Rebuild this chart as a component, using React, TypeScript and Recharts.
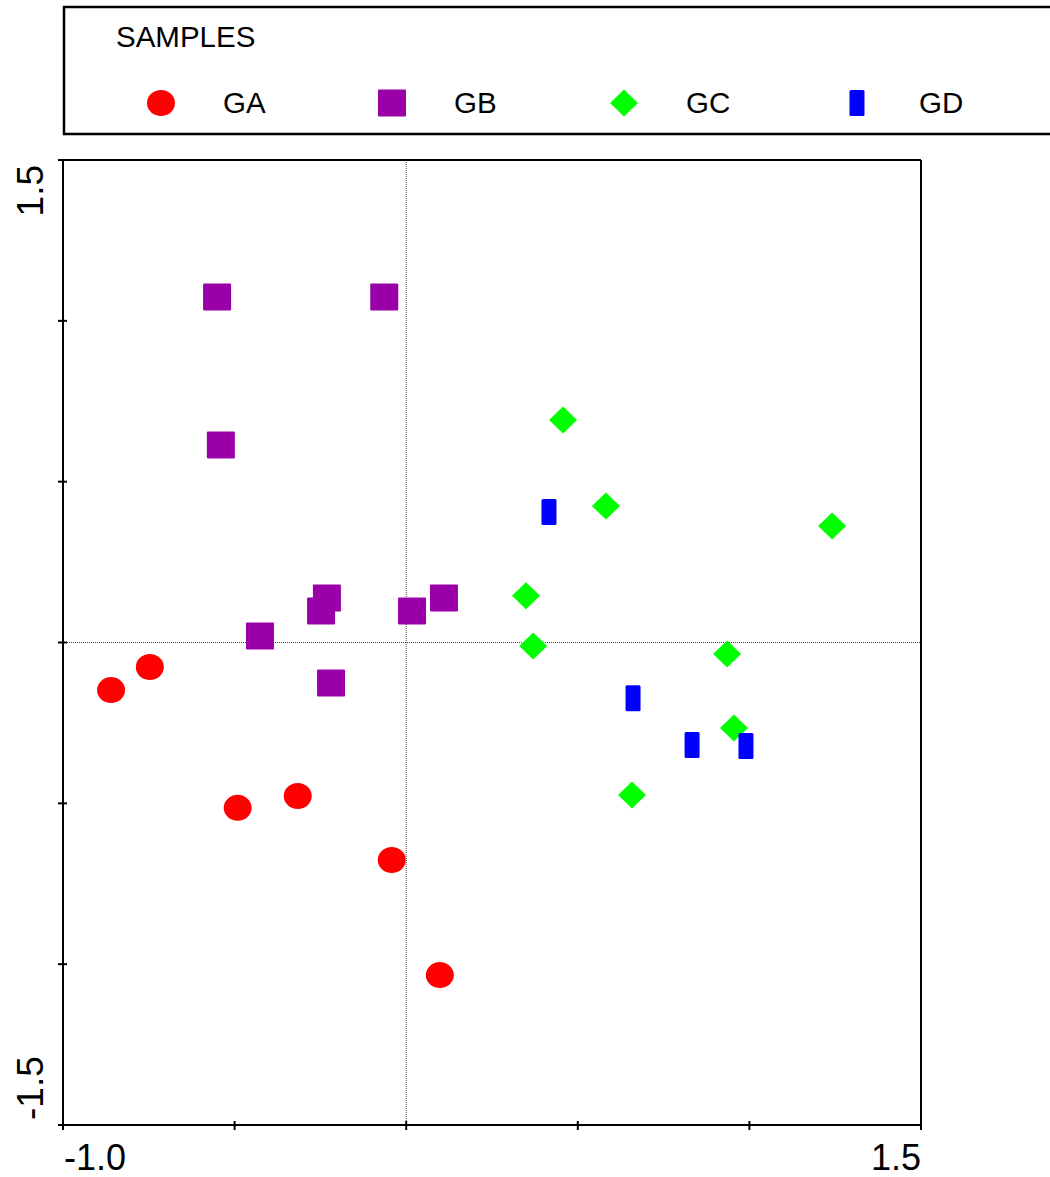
import React from "react";
import {
  ScatterChart,
  Scatter,
  XAxis,
  YAxis,
  ReferenceLine,
} from "recharts";

// sample scores
const gaX = [-0.86, -0.747, -0.491, -0.316, -0.042, 0.098];
const gaY = [-0.148, -0.076, -0.514, -0.477, -0.676, -1.034];

const gbX = [-0.551, -0.064, -0.54, -0.426, -0.231, -0.248, 0.017, 0.11, -0.219];
const gbY = [1.074, 1.074, 0.614, 0.02, 0.138, 0.098, 0.098, 0.138, -0.126];

const gcX = [0.457, 0.582, 1.241, 0.349, 0.37, 0.935, 0.955, 0.658];
const gcY = [0.692, 0.424, 0.362, 0.145, -0.011, -0.036, -0.266, -0.474];

const gdX = [0.416, 0.661, 0.833, 0.99];
const gdY = [0.406, -0.173, -0.319, -0.322];

const groups = ["GA", "GB", "GC", "GD"];
const xTicks = [-1.0, -0.5, 0, 0.5, 1.0, 1.5];
const yTicks = [-1.5, -1.0, -0.5, 0, 0.5, 1.0, 1.5];
const xTickLabels = ["-1.0", "", "", "", "", "1.5"];
const yTickLabels = ["-1.5", "", "", "", "", "", "1.5"];

const FONT = "'Liberation Sans', Arial, sans-serif";

const toPoints = (xs: number[], ys: number[]) =>
  xs.map((x, i) => ({ x, y: ys[i] }));

const colors: Record<string, string> = {
  GA: "#FF0000",
  GB: "#9900A8",
  GC: "#00FF00",
  GD: "#0000FF",
};

const Marker = ({ group, cx, cy }: { group: string; cx: number; cy: number }) => {
  const fill = colors[group];
  if (group === "GA") return <ellipse cx={cx} cy={cy} rx={14} ry={13} fill={fill} />;
  if (group === "GB")
    return <rect x={cx - 14} y={cy - 13.5} width={28} height={27} rx={1} fill={fill} />;
  if (group === "GC")
    return (
      <path
        d={`M${cx},${cy - 13.5} L${cx + 14},${cy} L${cx},${cy + 13.5} L${cx - 14},${cy} Z`}
        fill={fill}
      />
    );
  return <rect x={cx - 7.5} y={cy - 13} width={15} height={26} rx={1.5} fill={fill} />;
};

const XTick = ({ x, y, index }: any) => {
  const label = xTickLabels[index];
  const anchor = index === 0 ? "start" : "end";
  return (
    <g>
      <line x1={x} x2={x} y1={y - 4} y2={y + 5} stroke="#000" strokeWidth={2} />
      {label && (
        <text x={x + (index === 0 ? 1 : 0)} y={1170} textAnchor={anchor} fontSize={36} fontFamily={FONT} fill="#000">
          {label}
        </text>
      )}
    </g>
  );
};

const YTick = ({ x, y, index }: any) => {
  const label = yTickLabels[index];
  const top = index === yTicks.length - 1;
  const ty = top ? y + 5 : y - 5;
  return (
    <g>
      <line x1={x - 5} x2={x + 4} y1={y} y2={y} stroke="#000" strokeWidth={2} />
      {label && (
        <text
          transform={`translate(43, ${ty}) rotate(-90)`}
          textAnchor={top ? "end" : "start"}
          fontSize={37}
          fontFamily={FONT}
          fill="#000"
        >
          {label}
        </text>
      )}
    </g>
  );
};

const legendX = [161, 392, 624, 857];

const LegendBox = () => (
  <svg
    width={1050}
    height={140}
    style={{ position: "absolute", left: 0, top: 0 }}
  >
    <rect x={64} y={7} width={1100} height={127} fill="#fff" stroke="#000" strokeWidth={2.5} />
    <line x1={63} x2={1050} y1={135.5} y2={135.5} stroke="#bbb" strokeWidth={1} />
    <text x={116} y={47} fontSize={29.5} fontFamily={FONT} fill="#000">
      SAMPLES
    </text>
    {groups.map((g, i) => (
      <g key={g}>
        <Marker group={g} cx={legendX[i]} cy={103} />
        <text x={legendX[i] + 62} y={113} fontSize={29.5} fontFamily={FONT} fill="#000">
          {g}
        </text>
      </g>
    ))}
  </svg>
);

export default function App() {
  return (
    <div
      style={{
        position: "absolute",
        left: 0,
        top: 0,
        width: 1050,
        height: 1177,
        overflow: "hidden",
        background: "#fff",
      }}
    >
      <LegendBox />
      <div style={{ position: "absolute", left: 0, top: 0 }}>
        <ScatterChart
          width={1050}
          height={1177}
          margin={{ top: 160, right: 129, bottom: 51, left: 62 }}
        >
          <XAxis
            type="number"
            dataKey="x"
            domain={[-1.0, 1.5]}
            ticks={xTicks}
            height={1}
            tickSize={0}
            tickMargin={0}
            tickLine={false}
            axisLine={{ stroke: "#000", strokeWidth: 2 }}
            tick={<XTick />}
            interval={0}
            allowDataOverflow
          />
          <YAxis
            type="number"
            dataKey="y"
            domain={[-1.5, 1.5]}
            ticks={yTicks}
            width={1}
            tickSize={0}
            tickMargin={0}
            tickLine={false}
            axisLine={{ stroke: "#000", strokeWidth: 2 }}
            tick={<YTick />}
            interval={0}
            allowDataOverflow
          />
          <ReferenceLine x={0} stroke="#444" strokeWidth={1} strokeDasharray="1 1" />
          <ReferenceLine y={0} stroke="#444" strokeWidth={1} strokeDasharray="1 1" />
          <ReferenceLine x={1.5} stroke="#000" strokeWidth={2} />
          <ReferenceLine y={1.5} stroke="#000" strokeWidth={2} />
          <Scatter
            name="GA"
            data={toPoints(gaX, gaY)}
            isAnimationActive={false}
            shape={(p: any) => <Marker group="GA" cx={p.cx} cy={p.cy} />}
          />
          <Scatter
            name="GB"
            data={toPoints(gbX, gbY)}
            isAnimationActive={false}
            shape={(p: any) => <Marker group="GB" cx={p.cx} cy={p.cy} />}
          />
          <Scatter
            name="GC"
            data={toPoints(gcX, gcY)}
            isAnimationActive={false}
            shape={(p: any) => <Marker group="GC" cx={p.cx} cy={p.cy} />}
          />
          <Scatter
            name="GD"
            data={toPoints(gdX, gdY)}
            isAnimationActive={false}
            shape={(p: any) => <Marker group="GD" cx={p.cx} cy={p.cy} />}
          />
        </ScatterChart>
      </div>
    </div>
  );
}
